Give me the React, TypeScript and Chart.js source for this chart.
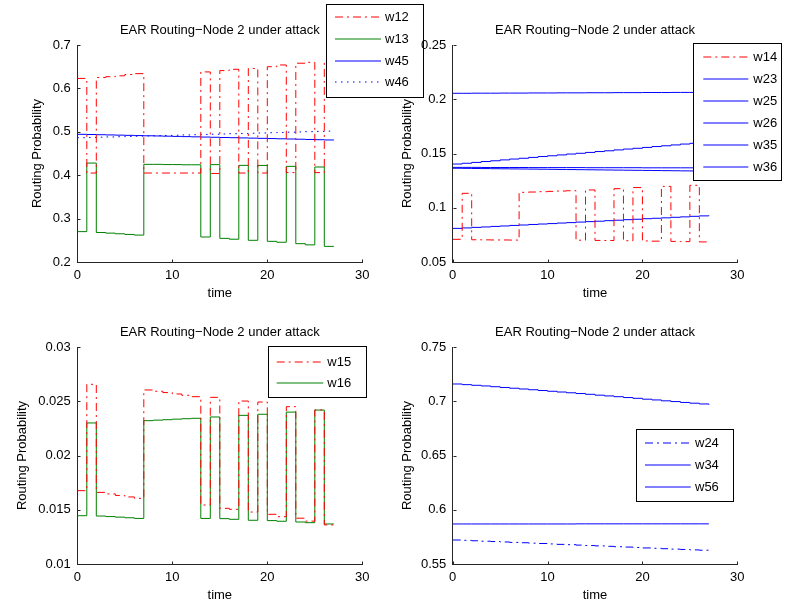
import React, { useEffect, useRef } from 'react';
import { Chart, registerables } from 'chart.js';

Chart.register(...registerables);

// ---------- data ----------
const TIMES = [0, 1, 2, 3, 4, 5, 6, 7, 8, 9, 10, 11, 12, 13, 14, 15, 16, 17, 18, 19, 20, 21, 22, 23, 24, 25, 26, 27];
const X_TICKS = [0, 10, 20, 30];
const TL_Y_TICKS = [0.2, 0.3, 0.4, 0.5, 0.6, 0.7];
const TR_Y_TICKS = [0.05, 0.1, 0.15, 0.2, 0.25];
const BL_Y_TICKS = [0.01, 0.015, 0.02, 0.025, 0.03];
const BR_Y_TICKS = [0.55, 0.6, 0.65, 0.7, 0.75];
const TITLE = 'EAR Routing\u2212Node 2 under attack';
const X_LABEL = 'time';
const Y_LABEL = 'Routing Probability';

// top-left
const W12 = [0.623, 0.405, 0.625, 0.627, 0.629, 0.632, 0.634, 0.405, 0.405, 0.405, 0.405, 0.405, 0.405, 0.638, 0.404, 0.641, 0.644, 0.405, 0.646, 0.405, 0.65, 0.654, 0.406, 0.658, 0.66, 0.406, 0.663, 0.663];
const W13 = [0.27, 0.428, 0.268, 0.2665, 0.265, 0.2635, 0.262, 0.425, 0.425, 0.4245, 0.4245, 0.424, 0.424, 0.2576, 0.4243, 0.2545, 0.2525, 0.4227, 0.25, 0.4225, 0.2476, 0.2455, 0.4204, 0.2422, 0.2395, 0.4189, 0.236, 0.236];
const W45 = [0.4942, 0.4938, 0.4933, 0.4928, 0.4923, 0.4918, 0.4913, 0.4908, 0.4904, 0.4899, 0.4894, 0.4889, 0.4884, 0.4879, 0.4874, 0.4869, 0.4864, 0.4859, 0.4854, 0.4849, 0.4844, 0.4839, 0.4834, 0.4829, 0.4823, 0.4818, 0.4812, 0.4806];
const W46 = [0.4865, 0.487, 0.4876, 0.4881, 0.4887, 0.4893, 0.4899, 0.4904, 0.491, 0.4916, 0.4921, 0.4927, 0.4933, 0.4939, 0.4944, 0.495, 0.4956, 0.4962, 0.4968, 0.4973, 0.4979, 0.4985, 0.4991, 0.4997, 0.5003, 0.5009, 0.5016, 0.5022];

// top-right
const W14 = [0.0709, 0.1133, 0.0705, 0.0704, 0.0703, 0.0703, 0.0702, 0.1142, 0.1145, 0.1148, 0.1151, 0.1154, 0.1157, 0.0701, 0.1164, 0.0699, 0.0698, 0.1176, 0.0696, 0.1186, 0.0694, 0.0692, 0.1197, 0.069, 0.0688, 0.1207, 0.0685, 0.0685];
const W23 = [0.081, 0.0814, 0.0819, 0.0823, 0.0828, 0.0832, 0.0837, 0.0841, 0.0846, 0.085, 0.0854, 0.0859, 0.0863, 0.0868, 0.0872, 0.0876, 0.0881, 0.0885, 0.089, 0.0894, 0.0899, 0.0903, 0.0907, 0.0912, 0.0916, 0.0921, 0.0925, 0.093];
const W25 = [0.1364, 0.1363, 0.1362, 0.1361, 0.136, 0.1359, 0.1358, 0.1357, 0.1356, 0.1355, 0.1354, 0.1353, 0.1352, 0.1351, 0.135, 0.1349, 0.1348, 0.1347, 0.1346, 0.1345, 0.1344, 0.1343, 0.1342, 0.1341, 0.134, 0.1339, 0.1338, 0.1337];
const W26 = [0.1403, 0.141, 0.1418, 0.1426, 0.1433, 0.1441, 0.1449, 0.1456, 0.1464, 0.1472, 0.1479, 0.1487, 0.1495, 0.1502, 0.151, 0.1518, 0.1525, 0.1533, 0.1541, 0.1548, 0.1556, 0.1564, 0.1571, 0.1579, 0.1587, 0.1594, 0.1602, 0.161];
const W35 = [0.2055, 0.2055, 0.2056, 0.2056, 0.2056, 0.2057, 0.2057, 0.2057, 0.2058, 0.2058, 0.2058, 0.2059, 0.2059, 0.2059, 0.206, 0.206, 0.206, 0.2061, 0.2061, 0.2061, 0.2062, 0.2062, 0.2062, 0.2063, 0.2063, 0.2063, 0.2064, 0.2064];
const W36 = [0.1372, 0.1372, 0.1372, 0.1371, 0.1371, 0.1371, 0.1371, 0.1371, 0.137, 0.137, 0.137, 0.137, 0.137, 0.137, 0.1369, 0.1369, 0.1369, 0.1369, 0.1369, 0.1369, 0.1368, 0.1368, 0.1368, 0.1368, 0.1368, 0.1368, 0.1368, 0.1368];

// bottom-left
const W15 = [0.01676, 0.02656, 0.0166, 0.01646, 0.01632, 0.01618, 0.01605, 0.02604, 0.02592, 0.0258, 0.02567, 0.02555, 0.02542, 0.01544, 0.02536, 0.01513, 0.01504, 0.02502, 0.01479, 0.02493, 0.01458, 0.01436, 0.0245, 0.01422, 0.01395, 0.0242, 0.0136, 0.0136];
const W16 = [0.01445, 0.023, 0.01442, 0.01437, 0.01432, 0.01426, 0.0142, 0.02321, 0.02326, 0.0233, 0.02335, 0.02339, 0.02343, 0.0142, 0.02355, 0.01418, 0.01412, 0.0237, 0.01403, 0.0238, 0.014, 0.01394, 0.024, 0.01387, 0.01381, 0.02419, 0.01369, 0.01369];

// bottom-right
const W24 = [0.5721, 0.5718, 0.5714, 0.571, 0.5707, 0.5703, 0.5699, 0.5696, 0.5692, 0.5689, 0.5685, 0.5681, 0.5678, 0.5674, 0.567, 0.5667, 0.5663, 0.5659, 0.5656, 0.5652, 0.5648, 0.5645, 0.5641, 0.5637, 0.5634, 0.563, 0.5627, 0.5623];
const W34 = [0.7159, 0.7153, 0.7147, 0.7141, 0.7134, 0.7127, 0.712, 0.7113, 0.7106, 0.7099, 0.7092, 0.7085, 0.7078, 0.7071, 0.7064, 0.7056, 0.7049, 0.7042, 0.7034, 0.7027, 0.7019, 0.7012, 0.7004, 0.6997, 0.6989, 0.6982, 0.6975, 0.6968];
const W56 = [0.5869, 0.5869, 0.5869, 0.5869, 0.5869, 0.5869, 0.5869, 0.5869, 0.5869, 0.5869, 0.5869, 0.5869, 0.5869, 0.587, 0.587, 0.587, 0.587, 0.587, 0.587, 0.587, 0.587, 0.587, 0.587, 0.587, 0.587, 0.587, 0.587, 0.587];

// ---------- styles / layout ----------
const RED = '#ff0000';
const GREEN = '#008000';
const BLUE = '#0000ff';
const DASHDOT = [8, 4, 2, 4];
const DOT = [1.5, 4.5];
const AXIS_COLOR = '#262626';
const FONT_FAMILY = '"Liberation Sans", Arial, Helvetica, sans-serif';
const FONT_SIZE = 13;
const PAGE_W = 786;
const PAGE_H = 608;
const Y_W = 70;
const X_H = 40;

type Series = { label: string; values: number[]; color: string; dash: number[] };
type Panel = {
  series: Series[];
  yTicks: number[];
  box: { l: number; r: number; t: number; b: number };
  ylabPad: number;
  legend: { x: number; y: number; w: number; h: number; row0: number; rowH: number; lx1: number; lx2: number; tx: number };
};

const PANELS: Panel[] = [
  {
    series: [
      { label: 'w12', values: W12, color: RED, dash: DASHDOT },
      { label: 'w13', values: W13, color: GREEN, dash: [] },
      { label: 'w45', values: W45, color: BLUE, dash: [] },
      { label: 'w46', values: W46, color: BLUE, dash: DOT },
    ],
    yTicks: TL_Y_TICKS,
    box: { l: 77.3, r: 362.3, t: 45, b: 262 },
    ylabPad: 22.4,
    legend: { x: 326, y: 4, w: 97, h: 93, row0: 17, rowH: 21.8, lx1: 335, lx2: 381, tx: 385 },
  },
  {
    series: [
      { label: 'w14', values: W14, color: RED, dash: DASHDOT },
      { label: 'w23', values: W23, color: BLUE, dash: [] },
      { label: 'w25', values: W25, color: BLUE, dash: [] },
      { label: 'w26', values: W26, color: BLUE, dash: [] },
      { label: 'w35', values: W35, color: BLUE, dash: [] },
      { label: 'w36', values: W36, color: BLUE, dash: [] },
    ],
    yTicks: TR_Y_TICKS,
    box: { l: 452.7, r: 737.3, t: 45, b: 262 },
    ylabPad: 17,
    legend: { x: 693.3, y: 43.3, w: 87.5, h: 137.4, row0: 57, rowH: 21.9, lx1: 703.3, lx2: 748.3, tx: 753.3 },
  },
  {
    series: [
      { label: 'w15', values: W15, color: RED, dash: DASHDOT },
      { label: 'w16', values: W16, color: GREEN, dash: [] },
    ],
    yTicks: BL_Y_TICKS,
    box: { l: 77.3, r: 362.3, t: 347, b: 564 },
    ylabPad: 7,
    legend: { x: 268.3, y: 346, w: 97.7, h: 50.7, row0: 362, rowH: 20.6, lx1: 276.7, lx2: 323.3, tx: 327.3 },
  },
  {
    series: [
      { label: 'w24', values: W24, color: BLUE, dash: DASHDOT },
      { label: 'w34', values: W34, color: BLUE, dash: [] },
      { label: 'w56', values: W56, color: BLUE, dash: [] },
    ],
    yTicks: BR_Y_TICKS,
    box: { l: 452.7, r: 737.3, t: 347, b: 564 },
    ylabPad: 16.5,
    legend: { x: 636, y: 429, w: 97.3, h: 71.7, row0: 443.3, rowH: 21.7, lx1: 645, lx2: 690.7, tx: 695 },
  },
];

const fmt = (v: any) => String(Number((+v).toFixed(4)));

function makeChart(canvas: HTMLCanvasElement, p: Panel) {
  const font = { family: FONT_FAMILY, size: FONT_SIZE, lineHeight: 1.2 };
  const decor = {
    id: 'decor',
    afterDraw(chart: any) {
      const ctx = chart.ctx as CanvasRenderingContext2D;
      const area = chart.chartArea;
      const xs = chart.scales.x;
      const ys = chart.scales.y;
      ctx.save();
      // inward tick marks
      ctx.strokeStyle = AXIS_COLOR;
      ctx.lineWidth = 1;
      ctx.setLineDash([]);
      ctx.beginPath();
      X_TICKS.forEach((v) => {
        const px = Math.round(xs.getPixelForValue(v)) + 0.5;
        const py = Math.round(area.bottom) + 0.5;
        ctx.moveTo(px, py);
        ctx.lineTo(px, py - 3);
      });
      p.yTicks.forEach((v) => {
        const py = Math.round(ys.getPixelForValue(v)) + 0.5;
        const px = Math.round(area.left) + 0.5;
        ctx.moveTo(px, py);
        ctx.lineTo(px + 3, py);
      });
      ctx.stroke();
      // title
      ctx.fillStyle = '#000';
      ctx.font = `${FONT_SIZE}px ${FONT_FAMILY}`;
      ctx.textAlign = 'center';
      ctx.textBaseline = 'alphabetic';
      ctx.fillText(TITLE, (area.left + area.right) / 2, area.top - 11);
      // legend
      const L = p.legend;
      ctx.fillStyle = '#fff';
      ctx.fillRect(L.x, L.y, L.w, L.h);
      ctx.strokeStyle = '#000';
      ctx.lineWidth = 1;
      ctx.strokeRect(Math.round(L.x) + 0.5, Math.round(L.y) + 0.5, Math.round(L.w), Math.round(L.h));
      p.series.forEach((s, i) => {
        const y = Math.round(L.row0 + i * L.rowH);
        ctx.strokeStyle = s.color;
        ctx.lineWidth = 1;
        ctx.setLineDash(s.dash);
        ctx.beginPath();
        ctx.moveTo(L.lx1, y);
        ctx.lineTo(L.lx2, y);
        ctx.stroke();
        ctx.setLineDash([]);
        ctx.fillStyle = '#000';
        ctx.textAlign = 'left';
        ctx.textBaseline = 'middle';
        ctx.fillText(s.label, L.tx, y);
      });
      ctx.restore();
    },
  };

  return new Chart(canvas, {
    type: 'line',
    data: {
      datasets: p.series.map((s) => ({
        label: s.label,
        data: TIMES.map((t, i) => ({ x: t, y: s.values[i] })),
        borderColor: s.color,
        backgroundColor: s.color,
        borderWidth: 1,
        borderDash: s.dash,
        pointRadius: 0,
        stepped: true,
        fill: false,
        tension: 0,
      })),
    },
    options: {
      responsive: false,
      animation: false,
      devicePixelRatio: 1,
      events: [],
      layout: {
        padding: { left: p.box.l - Y_W, right: PAGE_W - p.box.r, top: p.box.t, bottom: PAGE_H - p.box.b - X_H },
      },
      plugins: { legend: { display: false }, title: { display: false }, tooltip: { enabled: false } },
      scales: {
        x: {
          type: 'linear',
          min: 0,
          max: 30,
          afterBuildTicks: (s: any) => { s.ticks = X_TICKS.map((v) => ({ value: v })); },
          afterFit: (s: any) => { s.height = X_H; },
          grid: { display: false, drawTicks: false },
          border: { display: true, color: AXIS_COLOR, width: 1 },
          ticks: { font, color: '#000', padding: 6, maxRotation: 0, autoSkip: false, callback: fmt },
          title: { display: true, text: X_LABEL, font, color: '#000', padding: { top: 0, bottom: 1 } },
        },
        y: {
          type: 'linear',
          min: p.yTicks[0],
          max: p.yTicks[p.yTicks.length - 1],
          afterBuildTicks: (s: any) => { s.ticks = p.yTicks.map((v) => ({ value: v })); },
          afterFit: (s: any) => { s.width = Y_W; },
          grid: { display: false, drawTicks: false },
          border: { display: true, color: AXIS_COLOR, width: 1 },
          ticks: { font, color: '#000', padding: 6.5, autoSkip: false, callback: fmt },
          title: { display: true, text: Y_LABEL, font, color: '#000', padding: { top: p.ylabPad, bottom: 0 } },
        },
      },
    } as any,
    plugins: [decor],
  });
}

function PanelCanvas({ panel }: { panel: Panel }) {
  const ref = useRef<HTMLCanvasElement | null>(null);
  useEffect(() => {
    if (!ref.current) return;
    const chart = makeChart(ref.current, panel);
    return () => chart.destroy();
  }, [panel]);
  return (
    <canvas
      ref={ref}
      width={PAGE_W}
      height={PAGE_H}
      style={{ position: 'absolute', left: 0, top: 0, width: PAGE_W, height: PAGE_H }}
    />
  );
}

export default function App() {
  return (
    <div style={{ position: 'fixed', left: 0, top: 0, width: PAGE_W, height: PAGE_H, background: '#fff' }}>
      {PANELS.map((p, i) => (
        <PanelCanvas key={i} panel={p} />
      ))}
    </div>
  );
}
